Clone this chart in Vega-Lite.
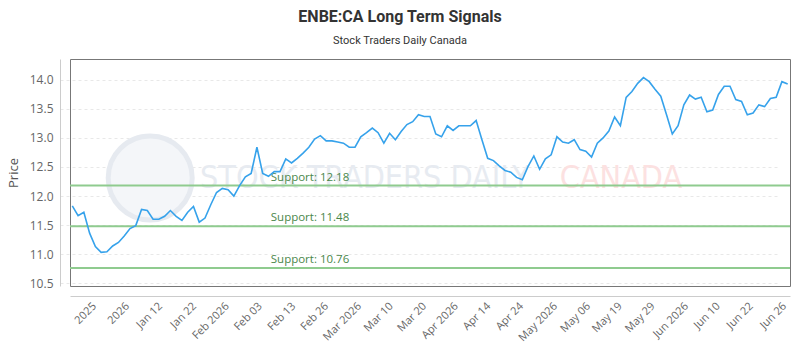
{
  "$schema": "https://vega.github.io/schema/vega-lite/v6.json",
  "width": 720,
  "height": 227,
  "autosize": {"type": "none"},
  "padding": {"left": 70, "top": 59, "right": 10, "bottom": 64},
  "background": "white",
  "title": {
    "text": "ENBE:CA Long Term Signals",
    "subtitle": "Stock Traders Daily Canada",
    "anchor": "middle",
    "dx": -30,
    "offset": 13,
    "font": "Roboto",
    "fontSize": 16,
    "fontWeight": "bold",
    "color": "#333333",
    "subtitleFont": "Roboto",
    "subtitleFontSize": 11,
    "subtitleColor": "#333333",
    "subtitlePadding": 10
  },
  "config": {
    "view": {"stroke": "#777777", "strokeWidth": 1},
    "axis": {"labelOverlap": false, "labelBound": false, "labelFlush": false},
    "axisX": {
      "labelAngle": -45,
      "labelFont": "Open Sans",
      "labelFontSize": 11,
      "labelColor": "#666666",
      "labelPadding": 4,
      "grid": false,
      "ticks": false,
      "domainColor": "#cccccc",
      "offset": 10
    },
    "axisY": {
      "grid": true,
      "gridColor": "#e8e8e8",
      "gridDash": [3, 3],
      "ticks": false,
      "domainColor": "#cccccc",
      "offset": 10,
      "labelFont": "Open Sans",
      "labelFontSize": 12,
      "labelColor": "#666666",
      "labelPadding": 7,
      "titleFont": "Open Sans",
      "titleFontSize": 13,
      "titleFontWeight": "normal",
      "titleColor": "#555555",
      "titlePadding": 9
    }
  },
  "datasets": {
    "prices": [
      {"i":0,"v":11.83},{"i":1,"v":11.66},{"i":2,"v":11.72},{"i":3,"v":11.36},{"i":4,"v":11.13},
      {"i":5,"v":11.03},{"i":6,"v":11.04},{"i":7,"v":11.14},{"i":8,"v":11.20},{"i":9,"v":11.31},
      {"i":10,"v":11.44},{"i":11,"v":11.49},{"i":12,"v":11.77},{"i":13,"v":11.75},{"i":14,"v":11.60},
      {"i":15,"v":11.60},{"i":16,"v":11.65},{"i":17,"v":11.75},{"i":18,"v":11.65},{"i":19,"v":11.58},
      {"i":20,"v":11.72},{"i":21,"v":11.82},{"i":22,"v":11.55},{"i":23,"v":11.62},{"i":24,"v":11.85},
      {"i":25,"v":12.06},{"i":26,"v":12.13},{"i":27,"v":12.11},{"i":28,"v":12.00},{"i":29,"v":12.18},
      {"i":30,"v":12.33},{"i":31,"v":12.39},{"i":32,"v":12.84},{"i":33,"v":12.39},{"i":34,"v":12.34},
      {"i":35,"v":12.42},{"i":36,"v":12.42},{"i":37,"v":12.64},{"i":38,"v":12.57},{"i":39,"v":12.65},
      {"i":40,"v":12.74},{"i":41,"v":12.84},{"i":42,"v":12.98},{"i":43,"v":13.04},{"i":44,"v":12.95},
      {"i":45,"v":12.95},{"i":46,"v":12.93},{"i":47,"v":12.91},{"i":48,"v":12.84},{"i":49,"v":12.84},
      {"i":50,"v":13.02},{"i":51,"v":13.09},{"i":52,"v":13.17},{"i":53,"v":13.09},{"i":54,"v":12.91},
      {"i":55,"v":13.08},{"i":56,"v":12.97},{"i":57,"v":13.11},{"i":58,"v":13.23},{"i":59,"v":13.28},
      {"i":60,"v":13.40},{"i":61,"v":13.37},{"i":62,"v":13.37},{"i":63,"v":13.07},{"i":64,"v":13.02},
      {"i":65,"v":13.21},{"i":66,"v":13.13},{"i":67,"v":13.21},{"i":68,"v":13.21},{"i":69,"v":13.21},
      {"i":70,"v":13.30},{"i":71,"v":12.97},{"i":72,"v":12.65},{"i":73,"v":12.61},{"i":74,"v":12.52},
      {"i":75,"v":12.44},{"i":76,"v":12.41},{"i":77,"v":12.32},{"i":78,"v":12.28},{"i":79,"v":12.51},
      {"i":80,"v":12.69},{"i":81,"v":12.46},{"i":82,"v":12.64},{"i":83,"v":12.71},{"i":84,"v":13.02},
      {"i":85,"v":12.93},{"i":86,"v":12.91},{"i":87,"v":12.97},{"i":88,"v":12.80},{"i":89,"v":12.77},
      {"i":90,"v":12.67},{"i":91,"v":12.91},{"i":92,"v":13.00},{"i":93,"v":13.12},{"i":94,"v":13.36},
      {"i":95,"v":13.21},{"i":96,"v":13.70},{"i":97,"v":13.80},{"i":98,"v":13.94},{"i":99,"v":14.04},
      {"i":100,"v":13.97},{"i":101,"v":13.84},{"i":102,"v":13.72},{"i":103,"v":13.40},{"i":104,"v":13.07},
      {"i":105,"v":13.21},{"i":106,"v":13.57},{"i":107,"v":13.74},{"i":108,"v":13.67},{"i":109,"v":13.70},
      {"i":110,"v":13.45},{"i":111,"v":13.48},{"i":112,"v":13.75},{"i":113,"v":13.89},{"i":114,"v":13.89},
      {"i":115,"v":13.66},{"i":116,"v":13.63},{"i":117,"v":13.40},{"i":118,"v":13.43},{"i":119,"v":13.57},
      {"i":120,"v":13.54},{"i":121,"v":13.68},{"i":122,"v":13.70},{"i":123,"v":13.97},{"i":124,"v":13.93}
    ],
    "supports": [
      {"i": 34.4, "v": 12.18, "label": "Support: 12.18"},
      {"i": 34.4, "v": 11.48, "label": "Support: 11.48"},
      {"i": 34.4, "v": 10.76, "label": "Support: 10.76"}
    ],
    "wm": [
      {"i": 50.7, "v": 12.31, "label": "STOCK TRADERS DAILY", "c": "a"},
      {"i": 95.1, "v": 12.31, "label": "CANADA", "c": "b"}
    ],
    "logo": [
      {"i": 13.5, "v": 12.31}
    ]
  },
  "layer": [
    {
      "data": {"name": "logo"},
      "mark": {"type": "point", "shape": "circle", "size": 7056, "filled": false, "fill": "#f4f6f9", "stroke": "#e6eaf0", "strokeWidth": 5, "opacity": 1},
      "encoding": {
        "x": {
          "field": "i", "type": "quantitative",
          "scale": {"domain": [-0.4, 124.4], "nice": false, "zero": false},
          "axis": {
            "values": [3.07, 8.79, 14.5, 20.4, 26.1, 31.8, 37.6, 43.3, 49.0, 54.5, 60.3, 65.8, 71.4, 77.1, 83.0, 88.7, 94.2, 99.9, 105.7, 111.2, 116.9, 122.7],
            "tickCount": 100,
            "labelExpr": "['2025','2026','Jan 12','Jan 22','Feb 2026','Feb 03','Feb 13','Feb 26','Mar 2026','Mar 10','Mar 20','Apr 2026','Apr 14','Apr 24','May 2026','May 06','May 19','May 29','Jun 2026','Jun 10','Jun 22','Jun 26'][indexof([3.07, 8.79, 14.5, 20.4, 26.1, 31.8, 37.6, 43.3, 49.0, 54.5, 60.3, 65.8, 71.4, 77.1, 83.0, 88.7, 94.2, 99.9, 105.7, 111.2, 116.9, 122.7], datum.value)]",
            "title": null
          }
        },
        "y": {
          "field": "v", "type": "quantitative",
          "scale": {"domain": [10.45, 14.36], "nice": false, "zero": false},
          "axis": {
            "values": [10.5, 11.0, 11.5, 12.0, 12.5, 13.0, 13.5, 14.0],
            "tickCount": 100,
            "format": ".1f",
            "title": "Price"
          }
        }
      }
    },
    {
      "data": {"name": "wm"},
      "mark": {"type": "text", "font": "DejaVu Sans Condensed, DejaVu Sans", "fontSize": 32, "fontWeight": 300, "align": "center", "baseline": "middle"},
      "encoding": {
        "x": {"field": "i", "type": "quantitative"},
        "y": {"field": "v", "type": "quantitative"},
        "text": {"field": "label"},
        "color": {"field": "c", "type": "nominal", "scale": {"domain": ["a", "b"], "range": ["#e7ebf1", "#fce1e1"]}, "legend": null}
      }
    },
    {
      "data": {"name": "supports"},
      "mark": {"type": "rule", "color": "#8fcb8f", "strokeWidth": 2},
      "encoding": {
        "y": {"field": "v", "type": "quantitative"}
      }
    },
    {
      "data": {"name": "supports"},
      "mark": {"type": "text", "font": "Open Sans", "fontSize": 11.5, "align": "left", "baseline": "alphabetic", "dy": -5, "color": "#4a874a"},
      "encoding": {
        "x": {"field": "i", "type": "quantitative"},
        "y": {"field": "v", "type": "quantitative"},
        "text": {"field": "label"}
      }
    },
    {
      "data": {"name": "prices"},
      "mark": {"type": "line", "color": "#36a2eb", "strokeWidth": 1.6},
      "encoding": {
        "x": {"field": "i", "type": "quantitative"},
        "y": {"field": "v", "type": "quantitative"}
      }
    }
  ]
}
